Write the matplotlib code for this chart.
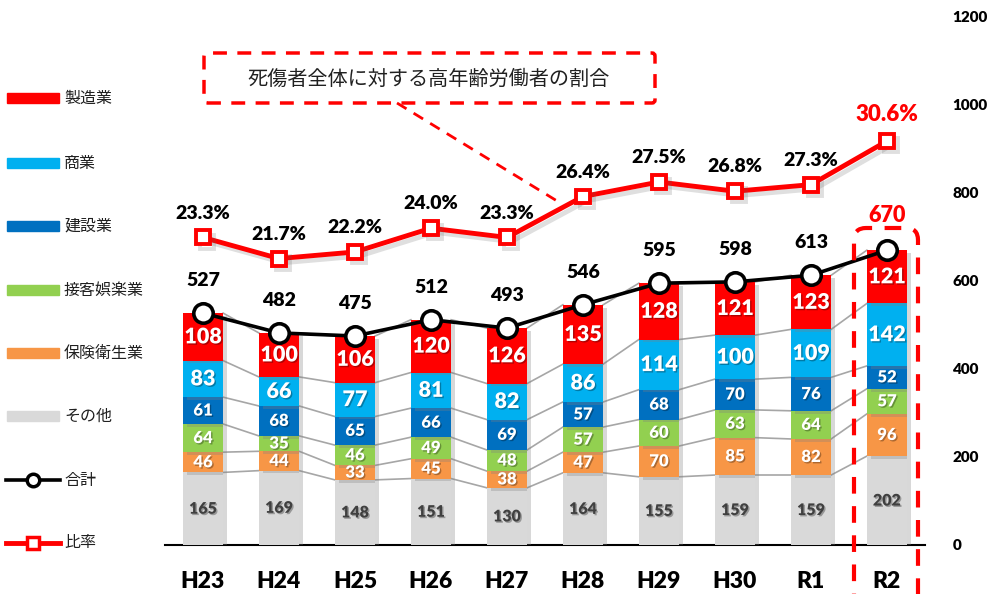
import matplotlib
matplotlib.use("Agg")
import matplotlib.pyplot as plt
import matplotlib.patheffects as pe
from matplotlib.patches import FancyBboxPatch, Rectangle
from matplotlib.lines import Line2D
import numpy as np

plt.rcParams['font.family'] = ['Lato', 'Noto Sans CJK JP', 'DejaVu Sans']

categories = ['H23', 'H24', 'H25', 'H26', 'H27', 'H28', 'H29', 'H30', 'R1', 'R2']
other = [165, 169, 148, 151, 130, 164, 155, 159, 159, 202]
hoken = [46, 44, 33, 45, 38, 47, 70, 85, 82, 96]
sekkyaku = [64, 35, 46, 49, 48, 57, 60, 63, 64, 57]
kensetsu = [61, 68, 65, 66, 69, 57, 68, 70, 76, 52]
shogyo = [83, 66, 77, 81, 82, 86, 114, 100, 109, 142]
seizo = [108, 100, 106, 120, 126, 135, 128, 121, 123, 121]
total = [527, 482, 475, 512, 493, 546, 595, 598, 613, 670]
ratio = [23.3, 21.7, 22.2, 24.0, 23.3, 26.4, 27.5, 26.8, 27.3, 30.6]
yticks = [0, 200, 400, 600, 800, 1000, 1200]

series_names = ['その他', '保険衛生業', '接客娯楽業', '建設業', '商業', '製造業']
series_vals = [other, hoken, sekkyaku, kensetsu, shogyo, seizo]
colors = ['#D9D9D9', '#F79646', '#92D050', '#0070C0', '#00B0F0', '#FF0000']
label_sizes = [11.5, 12, 12, 12, 15.5, 15.5]
label_colors = ['#404040', 'white', 'white', 'white', 'white', 'white']

W, H = 989, 594
fig = plt.figure(figsize=(W / 100, H / 100), dpi=100)
ax = fig.add_axes([165 / W, 1 - 545 / H, (925 - 165) / W, (545 - 17) / H])
ax2 = ax.twinx()

x = np.arange(len(categories))
bw = 0.53
bottom = np.zeros(len(categories))
shadow = [pe.SimplePatchShadow(offset=(3, -2), shadow_rgbFace='#808080', alpha=0.3), pe.Normal()]
tshadow = [pe.SimplePatchShadow(offset=(1, -1), shadow_rgbFace='#000000', alpha=0.3), pe.Normal()]

bounds = []
for vals, col, fs, tc in zip(series_vals, colors, label_sizes, label_colors):
    v = np.array(vals, dtype=float)
    bars = ax.bar(x, v, bw, bottom=bottom, color=col, zorder=3)
    for b in bars:
        b.set_path_effects(shadow)
    for xi, bi, vi in zip(x, bottom, v):
        ax.text(xi, bi + vi / 2, f"{int(vi)}", ha='center', va='center', color=tc,
                fontsize=fs, fontweight='heavy', zorder=6, path_effects=tshadow)
    bottom = bottom + v
    bounds.append(bottom.copy())

# connector lines
for bnd in bounds:
    for i in range(len(categories) - 1):
        ax.plot([x[i] + bw / 2, x[i + 1] - bw / 2], [bnd[i], bnd[i + 1]],
                color='#A6A6A6', lw=1.2, zorder=2)

# total line
ax.plot(x, total, color='black', lw=2.6, marker='o', markersize=14,
        markerfacecolor='white', markeredgecolor='black', markeredgewidth=2.6, zorder=8)
for i, (xi, t) in enumerate(zip(x, total)):
    col = 'red' if i == len(total) - 1 else 'black'
    fs = 15.5 if i == len(total) - 1 else 14
    ax.text(xi, t + 55, f"{t}", ha='center', va='bottom', color=col, fontsize=fs,
            fontweight='heavy', zorder=9)

ax.set_xlim(-0.5, 9.5)
ax.set_ylim(0, 1200)
ax.set_yticks(yticks)
ax.set_yticklabels([str(t) for t in yticks], fontsize=11, fontweight='heavy')
ax.yaxis.tick_right()
ax.tick_params(axis='y', length=0, pad=20)
ax.set_xticks(x)
ax.set_xticklabels(categories, fontsize=16.5, fontweight='heavy')
ax.tick_params(axis='x', length=0, pad=19)
for s in ['top', 'left', 'right']:
    ax.spines[s].set_visible(False)
ax.spines['bottom'].set_linewidth(1.5)
ax.spines['bottom'].set_color('black')

# ratio line
ax2.set_ylim(0, 40)
ax2.set_yticks([])
for s in ['top', 'left', 'right', 'bottom']:
    ax2.spines[s].set_visible(False)
ax2.plot(x, ratio, color='#FF0000', lw=3.5, marker='s', markersize=10,
         markerfacecolor='white', markeredgecolor='#FF0000', markeredgewidth=2.8, zorder=8,
         path_effects=[pe.SimpleLineShadow(offset=(3, -3), shadow_color='#606060', alpha=0.2), pe.Normal()])
for i, (xi, r) in enumerate(zip(x, ratio)):
    col = 'red' if i == len(ratio) - 1 else 'black'
    fs = 16 if i == len(ratio) - 1 else 14
    ax2.text(xi, r + 1.2, f"{r:.1f}%", ha='center', va='bottom', color=col, fontsize=fs,
             fontweight='heavy', zorder=9)

# legend (manual)
cjk = ['Noto Sans CJK JP', 'DejaVu Sans']
leg_y = [98, 163, 226, 290, 353, 416]
leg_names = ['製造業', '商業', '建設業', '接客娯楽業', '保険衛生業', 'その他']
leg_cols = ['#FF0000', '#00B0F0', '#0070C0', '#92D050', '#F79646', '#D9D9D9']
for yy, nm, c in zip(leg_y, leg_names, leg_cols):
    fig.add_artist(Rectangle((7 / W, 1 - (yy + 5) / H), 52 / W, 10 / H,
                             transform=fig.transFigure, color=c))
    fig.text(64 / W, 1 - yy / H, nm, ha='left', va='center', fontsize=11.5,
             family=cjk, color='#202020')
fig.add_artist(Line2D([6 / W, 60 / W], [1 - 480 / H] * 2, transform=fig.transFigure,
                      color='black', lw=2.6))
fig.add_artist(Line2D([33 / W], [1 - 480 / H], transform=fig.transFigure, color='black',
                      marker='o', markersize=9, markerfacecolor='white', markeredgewidth=2.5))
fig.text(64 / W, 1 - 480 / H, '合計', ha='left', va='center', fontsize=11.5,
         family=cjk, color='#202020')
fig.add_artist(Line2D([6 / W, 60 / W], [1 - 543 / H] * 2, transform=fig.transFigure,
                      color='#FF0000', lw=3.5))
fig.add_artist(Line2D([33 / W], [1 - 543 / H], transform=fig.transFigure, color='#FF0000',
                      marker='s', markersize=8, markerfacecolor='white', markeredgewidth=2.5))
fig.text(64 / W, 1 - 543 / H, '比率', ha='left', va='center', fontsize=11.5,
         family=cjk, color='#202020')

# callout box
fig.add_artist(FancyBboxPatch((2.04, (594 - 103) / 100), 4.51, 0.50,
                              boxstyle='round,pad=0,rounding_size=0.03',
                              transform=fig.dpi_scale_trans, fill=False,
                              edgecolor='#FF0000', lw=2.5, linestyle=(0, (4, 3))))
fig.text(429 / W, 1 - 79 / H, '死傷者全体に対する高年齢労働者の割合', ha='center', va='center',
         fontsize=14.5, family=cjk, color='#202020')
fig.add_artist(Line2D([397 / W, 562 / W], [1 - 103 / H, 1 - 204 / H], transform=fig.transFigure,
                      color='#FF0000', lw=2, linestyle=(0, (4, 3))))

# R2 highlight box
fig.add_artist(FancyBboxPatch((8.54, -0.2), 0.64, (594 - 228) / 100 + 0.2,
                              boxstyle='round,pad=0,rounding_size=0.12',
                              transform=fig.dpi_scale_trans, fill=False,
                              edgecolor='#FF0000', lw=3, linestyle=(0, (4, 3))))

fig.savefig('out.png', dpi=100)
